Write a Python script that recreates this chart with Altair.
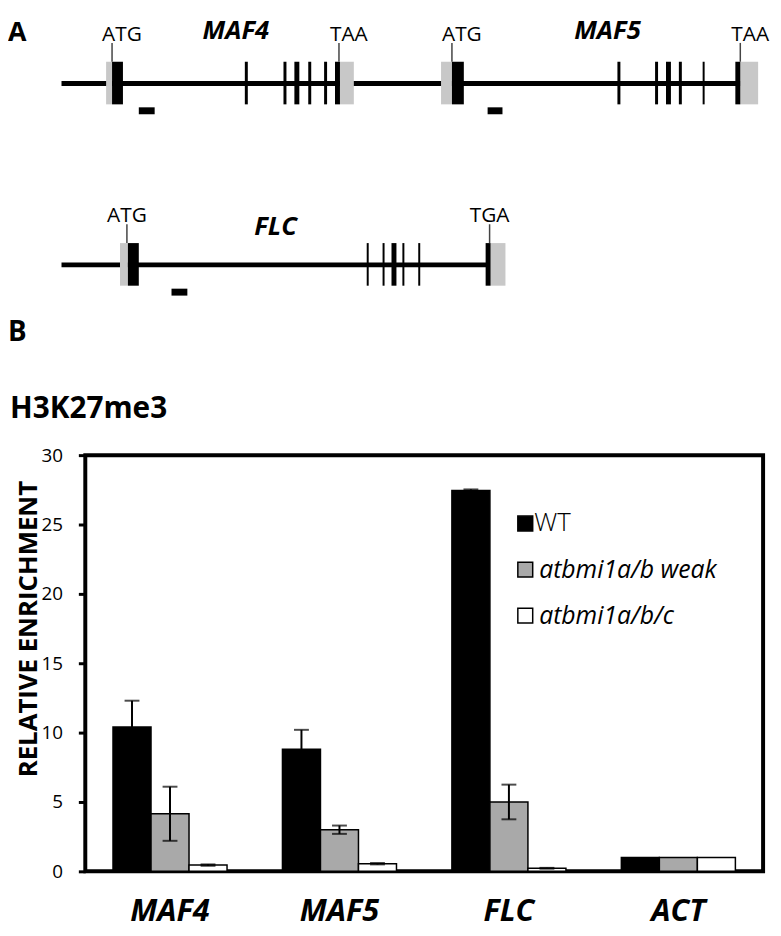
import altair as alt
import pandas as pd

# ---------------- Panel B data (ChIP H3K27me3 relative enrichment) ----------------
genes = ["MAF4", "MAF5", "FLC", "ACT"]
genotypes = ["WT", "atbmi1a/b weak", "atbmi1a/b/c"]
wt_vals = [10.4, 8.8, 27.45, 1.0]
wt_err = [1.9, 1.4, 0.08, 0.0]
weak_vals = [4.15, 3.0, 5.0, 1.0]
weak_err = [1.95, 0.3, 1.25, 0.0]
abc_vals = [0.45, 0.55, 0.22, 1.0]
abc_err = [0.05, 0.05, 0.03, 0.0]
y_ticks = [0, 5, 10, 15, 20, 25, 30]
bar_colors = ["#000000", "#a9a9a9", "#ffffff"]

# ---------------- Panel A data (gene models, positions in kb along drawn locus) ----------------
line_track = [0, 1]
line_start = [0.0, 0.0]
line_end = [6.85, 4.30]

utr_track = [0, 0, 0, 0, 1, 1]
utr_start = [0.45, 2.81, 3.83, 6.85, 0.59, 4.33]
utr_end = [0.51, 2.95, 3.94, 7.03, 0.67, 4.48]

exon_track = [0] * 14 + [1] * 7
exon_start = [0.51, 1.85, 2.24, 2.35, 2.49, 2.65, 2.76,
              3.94, 5.61, 5.99, 6.10, 6.23, 6.47, 6.80,
              0.67, 3.08, 3.24, 3.33, 3.44, 3.60, 4.28]
exon_end = [0.62, 1.88, 2.27, 2.40, 2.52, 2.68, 2.81,
            4.06, 5.64, 6.02, 6.15, 6.26, 6.49, 6.85,
            0.78, 3.10, 3.26, 3.38, 3.46, 3.62, 4.33]

codon_track = [0, 0, 0, 0, 1, 1]
codon_pos = [0.51, 2.80, 3.94, 6.85, 0.66, 4.32]
codon_text = ["ATG", "TAA", "ATG", "TAA", "ATG", "TGA"]

primer_track = [0, 0, 1]
primer_start = [0.78, 4.30, 1.11]
primer_end = [0.94, 4.45, 1.27]

label_track = [0, 0, 1]
label_pos = [1.76, 5.51, 2.16]
label_text = ["MAF4", "MAF5", "FLC"]

FONT = "Open Sans"

# ---------------- tables ----------------
rows = []
for i, g in enumerate(genes):
    for gt, vals, errs in zip(genotypes, [wt_vals, weak_vals, abc_vals], [wt_err, weak_err, abc_err]):
        rows.append(dict(gene=g, genotype=gt, value=vals[i], err=errs[i],
                         lo=vals[i] - errs[i], hi=vals[i] + errs[i]))
bars_df = pd.DataFrame(rows)
err_df = bars_df[bars_df["err"] > 0]
legend_df = pd.DataFrame({"genotype": genotypes, "idx": list(range(len(genotypes)))})

lines_df = pd.DataFrame({"track": line_track, "start": line_start, "end": line_end})
utr_df = pd.DataFrame({"track": utr_track, "start": utr_start, "end": utr_end})
exon_df = pd.DataFrame({"track": exon_track, "start": exon_start, "end": exon_end})
codon_df = pd.DataFrame({"track": codon_track, "pos": codon_pos, "text": codon_text})
primer_df = pd.DataFrame({"track": primer_track, "start": primer_start, "end": primer_end})
label_df = pd.DataFrame({"track": label_track, "pos": label_pos, "text": label_text})

# ---------------- bar chart (panel B) ----------------
x_enc = alt.X("gene:N", sort=genes,
              scale=alt.Scale(domain=genes, paddingInner=0.327, paddingOuter=0.1635),
              axis=alt.Axis(title=None, labelFont=FONT, labelFontSize=31, labelFontWeight="bold",
                            labelFontStyle="italic", labelColor="black", ticks=False, tickSize=0,
                            domain=False, labelPadding=50, labelBaseline="alphabetic", labelAngle=0))
xo_enc = alt.XOffset("genotype:N", sort=genotypes,
                     scale=alt.Scale(domain=genotypes, paddingInner=0, paddingOuter=0))
y_scale = alt.Scale(domain=[0, 30], nice=False, zero=True)
color_scale = alt.Scale(domain=genotypes, range=bar_colors)

bars = alt.Chart(bars_df).mark_bar(stroke="black", strokeWidth=1.5).encode(
    x=x_enc, xOffset=xo_enc,
    y=alt.Y("value:Q", scale=y_scale,
            axis=alt.Axis(values=y_ticks, grid=False, domain=False, tickSize=7, tickWidth=3,
                          tickColor="black", labelFont=FONT, labelFontSize=19, labelColor="black",
                          labelPadding=16, labelFlush=False,
                          title="RELATIVE ENRICHMENT", titleFont=FONT, titleFontSize=26,
                          titleFontWeight="bold", titleColor="black", titleAngle=270,
                          titleX=-57, titleY=175, titleAlign="center", titleBaseline="middle")),
    color=alt.Color("genotype:N", scale=color_scale, legend=None),
)

err_rule = alt.Chart(err_df).mark_rule(color="black", strokeWidth=2).encode(
    x=x_enc, xOffset=xo_enc, y=alt.Y("lo:Q", scale=y_scale), y2="hi:Q")
cap_hi = alt.Chart(err_df).mark_tick(orient="horizontal", size=15, thickness=2, color="black").encode(
    x=x_enc, xOffset=xo_enc, y=alt.Y("hi:Q", scale=y_scale))
cap_lo = alt.Chart(err_df).mark_tick(orient="horizontal", size=15, thickness=2, color="black").encode(
    x=x_enc, xOffset=xo_enc, y=alt.Y("lo:Q", scale=y_scale))

leg_base = alt.Chart(legend_df).transform_calculate(ly="25.07 - datum.idx * 3.32")
leg_sq = leg_base.mark_square(size=225, stroke="black", strokeWidth=1.5, opacity=1).encode(
    x=alt.value(444), y=alt.Y("ly:Q", scale=y_scale),
    color=alt.Color("genotype:N", scale=color_scale, legend=None))
leg_txt_wt = leg_base.transform_filter("datum.idx == 0").mark_text(
    align="left", baseline="middle", font=FONT, fontSize=26, fontWeight=300, color="black").encode(
    x=alt.value(453), y=alt.Y("ly:Q", scale=y_scale), text="genotype:N")
leg_txt_it = leg_base.transform_filter("datum.idx > 0").mark_text(
    align="left", baseline="middle", font=FONT, fontSize=25, fontStyle="italic", color="black").encode(
    x=alt.value(458), y=alt.Y("ly:Q", scale=y_scale), text="genotype:N")

bar_group = alt.layer(bars, err_rule, cap_hi, cap_lo, leg_sq, leg_txt_wt, leg_txt_it)

# ---------------- gene diagrams (panel A) ----------------
dx_scale = alt.Scale(domain=[0, 7.0], range=[-24, 676], nice=False, zero=False)
dy_scale = alt.Scale(domain=[0, 1], range=[-375, -192], nice=False, zero=False)

def dx(field):
    return alt.X(field, scale=dx_scale, axis=None)

def dy(field):
    return alt.Y(field, scale=dy_scale, axis=None)

g_lines = alt.Chart(lines_df).mark_rule(color="black", strokeWidth=5).encode(
    x=dx("start:Q"), x2="end:Q", y=dy("track:Q"))
g_utr = alt.Chart(utr_df).mark_rect(color="#c8c8c8", yOffset=-22, y2Offset=21).encode(
    x=dx("start:Q"), x2="end:Q", y=dy("track:Q"), y2="track:Q")
g_exon = alt.Chart(exon_df).mark_rect(color="black", yOffset=-22, y2Offset=21).encode(
    x=dx("start:Q"), x2="end:Q", y=dy("track:Q"), y2="track:Q")
g_primer = alt.Chart(primer_df).mark_rect(color="black", yOffset=24, y2Offset=31).encode(
    x=dx("start:Q"), x2="end:Q", y=dy("track:Q"), y2="track:Q")
g_codon_tick = alt.Chart(codon_df).mark_rule(color="#444444", strokeWidth=1.5,
                                             yOffset=-41, y2Offset=-22).encode(
    x=dx("pos:Q"), y=dy("track:Q"), y2="track:Q")
g_codon_txt0 = alt.Chart(codon_df).transform_filter("datum.track == 0").mark_text(
    font=FONT, fontSize=21, fontWeight=500, color="black", baseline="alphabetic", dy=-43, dx=10).encode(
    x=dx("pos:Q"), y=dy("track:Q"), text="text:N")
g_codon_txt1 = alt.Chart(codon_df).transform_filter("datum.track == 1").mark_text(
    font=FONT, fontSize=21, fontWeight=500, color="black", baseline="alphabetic", dy=-43, dx=0).encode(
    x=dx("pos:Q"), y=dy("track:Q"), text="text:N")
g_label0 = alt.Chart(label_df).transform_filter("datum.track == 0").mark_text(
    font=FONT, fontSize=26, fontWeight="bold", fontStyle="italic", color="black",
    baseline="alphabetic", dy=-45).encode(x=dx("pos:Q"), y=dy("track:Q"), text="text:N")
g_label1 = alt.Chart(label_df).transform_filter("datum.track == 1").mark_text(
    font=FONT, fontSize=26, fontWeight="bold", fontStyle="italic", color="black",
    baseline="alphabetic", dy=-30).encode(x=dx("pos:Q"), y=dy("track:Q"), text="text:N")

diagram_group = alt.layer(g_lines, g_utr, g_exon, g_primer, g_codon_tick,
                          g_codon_txt0, g_codon_txt1, g_label0, g_label1)

# ---------------- panel letters / subtitle ----------------
one = alt.Data(values=[{}])
txt_a = alt.Chart(one).mark_text(text="A", font=FONT, fontSize=27, fontWeight="bold", color="black",
                                 align="left", baseline="alphabetic").encode(
    x=alt.value(-78), y=alt.value(-418))
txt_b = alt.Chart(one).mark_text(text="B", font=FONT, fontSize=28, fontWeight="bold", color="black",
                                 align="left", baseline="alphabetic").encode(
    x=alt.value(-78), y=alt.value(-115))
txt_h = alt.Chart(one).mark_text(text="H3K27me3", font=FONT, fontSize=30, fontWeight="bold",
                                 color="black", align="left", baseline="alphabetic").encode(
    x=alt.value(-76), y=alt.value(-37))

chart = alt.layer(bar_group, diagram_group, txt_a, txt_b, txt_h).resolve_scale(
    x="independent", y="independent"
).properties(
    width=684, height=420,
    autosize=alt.AutoSizeParams(type="none"),
    padding={"left": 78, "top": 447, "right": 10, "bottom": 59},
).configure(font=FONT).configure_view(stroke="black", strokeWidth=4)

chart.save("out.html", embed_options={"renderer": "svg", "actions": False})
